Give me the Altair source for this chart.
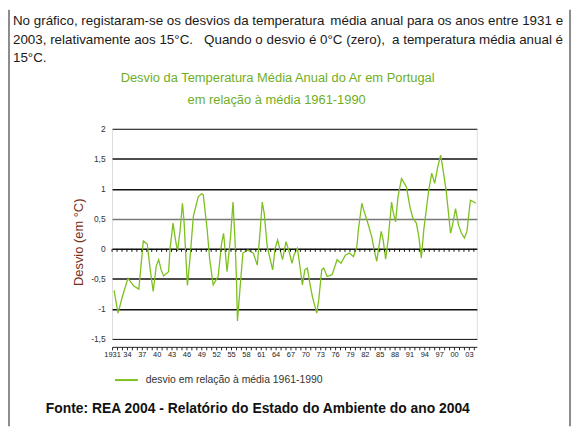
import altair as alt
import pandas as pd

# ---- data (fractional year, deviation in °C) ----
anos = [1931.4, 1932.2, 1933.1, 1934.2, 1935.4, 1936.4, 1937.3, 1938.1, 1938.7, 1939.3,
        1939.9, 1940.4, 1940.9, 1941.4, 1942.4, 1942.7, 1943.3, 1943.7, 1944.2, 1944.7,
        1945.2, 1945.5, 1946.2, 1946.7, 1947.4, 1948.4, 1949.1, 1949.4, 1950.2, 1950.7,
        1951.4, 1952.4, 1953.1, 1953.5, 1954.2, 1954.9, 1955.4, 1955.8, 1956.1, 1956.3,
        1956.9, 1957.4, 1958.4, 1959.5, 1960.3, 1960.9, 1961.3, 1961.7, 1962.3, 1963.4,
        1963.9, 1964.4, 1964.9, 1965.4, 1966.1, 1966.7, 1967.3, 1967.7, 1968.4, 1968.9,
        1969.4, 1969.9, 1970.4, 1970.9, 1971.4, 1972.3, 1972.7, 1973.3, 1973.7, 1974.4,
        1975.4, 1976.4, 1977.2, 1978.1, 1978.9, 1979.7, 1980.4, 1980.7, 1981.4, 1981.7,
        1982.6, 1983.4, 1983.9, 1984.4, 1985.3, 1985.7, 1986.2, 1986.7, 1987.4, 1987.7,
        1988.2, 1988.7, 1989.4, 1990.4, 1991.1, 1991.7, 1992.4, 1992.9, 1993.4, 1993.9,
        1994.9, 1995.5, 1996.1, 1996.7, 1997.3, 1997.7, 1998.4, 1999.3, 1999.7, 2000.3,
        2000.9, 2001.5, 2002.1, 2002.6, 2003.3, 2004.0, 2004.4]
desvios = [-0.69, -1.07, -0.79, -0.49, -0.62, -0.67, 0.13, 0.08, -0.35, -0.71,
           -0.29, -0.18, -0.35, -0.45, -0.38, 0.00, 0.43, 0.20, -0.04, 0.29,
           0.76, 0.48, -0.61, -0.18, 0.54, 0.87, 0.92, 0.90, 0.31, -0.18,
           -0.60, -0.46, 0.09, 0.26, -0.38, 0.20, 0.78, 0.15, -0.51, -1.20,
           -0.57, -0.07, -0.02, -0.07, -0.27, 0.32, 0.78, 0.59, 0.04, -0.35,
           0.01, 0.15, -0.02, -0.18, 0.12, -0.04, -0.24, -0.10, 0.01, -0.29,
           -0.60, -0.35, -0.32, -0.57, -0.79, -1.07, -0.85, -0.35, -0.32, -0.46,
           -0.43, -0.18, -0.24, -0.10, -0.07, -0.13, 0.04, 0.32, 0.76, 0.67,
           0.43, 0.20, -0.02, -0.21, 0.29, 0.15, -0.17, 0.15, 0.78, 0.62,
           0.45, 0.87, 1.17, 1.03, 0.70, 0.51, 0.43, 0.20, -0.15, 0.32,
           0.98, 1.26, 1.09, 1.36, 1.56, 1.36, 0.98, 0.26, 0.40, 0.67,
           0.40, 0.26, 0.18, 0.29, 0.81, 0.78, 0.76]
serie = "desvio em relação à média 1961-1990"
valores_y = [-1.5, -1, -0.5, 0, 0.5, 1, 1.5, 2]
anos_marcas = list(range(1931, 2005))

titulo = ["Desvio da Temperatura Média Anual do Ar em Portugal",
          "em relação à média 1961-1990"]
titulo_y = "Desvio (em °C)"
fonte = "Fonte: REA 2004 - Relatório do Estado do Ambiente do ano 2004"
par_l2 = ["No gráfico, registaram-se os desvios da temperatura", "média anual para os anos entre 1931 e"]
par_l3 = ["2003, relativamente aos 15°C.", "Quando o desvio é 0°C (zero),", "a temperatura média anual é"]
par_l4 = "15°C."

df = pd.DataFrame({"ano": anos, "desvio": desvios, "serie": serie})
df_marcas = pd.DataFrame({"ano": anos_marcas, "desvio": 0})

W, H = 368, 212
SANS = "Liberation Sans, Arial, sans-serif"

x_scale = alt.Scale(domain=[1931, 2004.6], nice=False, zero=False)
y_scale = alt.Scale(domain=[-1.5, 2], nice=False, zero=False)

label_x = ("(datum.value - 1931) % 3 == 0 ? (datum.value == 1931 ? '1931' : "
           "slice(toString(datum.value), 2)) : ''")

x_axis = alt.Axis(values=anos_marcas, labelExpr=label_x, offset=8,
                  domainColor="#222", tickColor="#222", tickSize=3,
                  labelFontSize=7.5, labelFont=SANS, labelColor="#222",
                  labelPadding=1, labelOverlap=False, labelFlush=False,
                  labelBound=False, grid=False, title=None)
y_axis = alt.Axis(values=valores_y,
                  labelExpr="replace(toString(datum.value), '.', ',')",
                  labelOverlap=False, labelFlush=False, labelBound=False,
                  grid=True,
                  gridColor={"condition": {"test": "datum.value == 0.5", "value": "#777"}, "value": "#111"},
                  gridWidth={"condition": {"test": "datum.value == 2 || datum.value == -1.5", "value": 1}, "value": 1.6},
                  domain=False, ticks=False, labelPadding=7,
                  labelFontSize=8.5, labelFont=SANS, labelColor="#333",
                  title=titulo_y, titleX=-34, titleY=114, titleAngle=-90,
                  titleAlign="center", titleBaseline="middle",
                  titleFont=SANS, titleFontSize=13, titleFontWeight="normal",
                  titleColor="#7a2e14")

line = alt.Chart(df).mark_line(strokeWidth=1.3).encode(
    x=alt.X("ano:Q", scale=x_scale, axis=x_axis),
    y=alt.Y("desvio:Q", scale=y_scale, axis=y_axis),
    color=alt.Color("serie:N", scale=alt.Scale(range=["#7cc01e"]),
                    legend=alt.Legend(title=None, orient="none", legendX=2, legendY=241,
                                      symbolType="stroke", symbolSize=529,
                                      symbolStrokeWidth=2, labelFont=SANS,
                                      labelFontSize=10.5, labelColor="#333",
                                      labelOffset=7, labelLimit=400)),
)

# small year ticks hanging under the zero line
zero_ticks = alt.Chart(df_marcas).mark_rule(color="#111", strokeWidth=1, y2Offset=3).encode(
    x=alt.X("ano:Q", scale=x_scale, axis=x_axis),
    y=alt.Y("desvio:Q", scale=y_scale, axis=y_axis),
    y2="desvio:Q",
)

def txt(s, x, y, **kw):
    return alt.Chart(alt.Data(values=[{"t": s}])).mark_text(**kw).encode(
        x=alt.value(x), y=alt.value(y), text="t:N")

par_kw = dict(font=SANS, fontSize=13.5, color="#1a1a1a", baseline="alphabetic")
texts = [
    txt(par_l2[0], -100, -105, align="left", **par_kw),
    txt(par_l2[1], 455, -105, align="right", **par_kw),
    txt(par_l3[0], -100, -86, align="left", **par_kw),
    txt(par_l3[1], 184, -86, align="center", **par_kw),
    txt(par_l3[2], 455, -86, align="right", **par_kw),
    txt(par_l4, -100, -67, align="left", **par_kw),
    txt(titulo[0], 167, -51, align="center", baseline="middle", font=SANS,
        fontSize=13, color="#6fae1f"),
    txt(titulo[1], 166, -29, align="center", baseline="middle", font=SANS,
        fontSize=13, color="#6fae1f"),
    txt(fonte, 147, 283, align="center", baseline="middle", font=SANS,
        fontSize=14, fontWeight="bold", color="#111"),
]

def borda(x):
    return alt.Chart(alt.Data(values=[{"b": 1}])).mark_rule(
        color="#8c8c8c", strokeWidth=2).encode(
        x=alt.value(x), y=alt.value(-120), y2=alt.value(300))

chart = alt.layer(borda(-104), borda(462), line, zero_ticks, *texts).properties(
    width=W, height=H,
    autosize=alt.AutoSizeParams(type="none"),
    padding={"left": 105, "top": 120, "right": 95, "bottom": 88},
).configure_view(stroke="transparent", strokeWidth=0).configure(background="white")

chart.save("out.html", embed_options={"renderer": "svg", "actions": False})
